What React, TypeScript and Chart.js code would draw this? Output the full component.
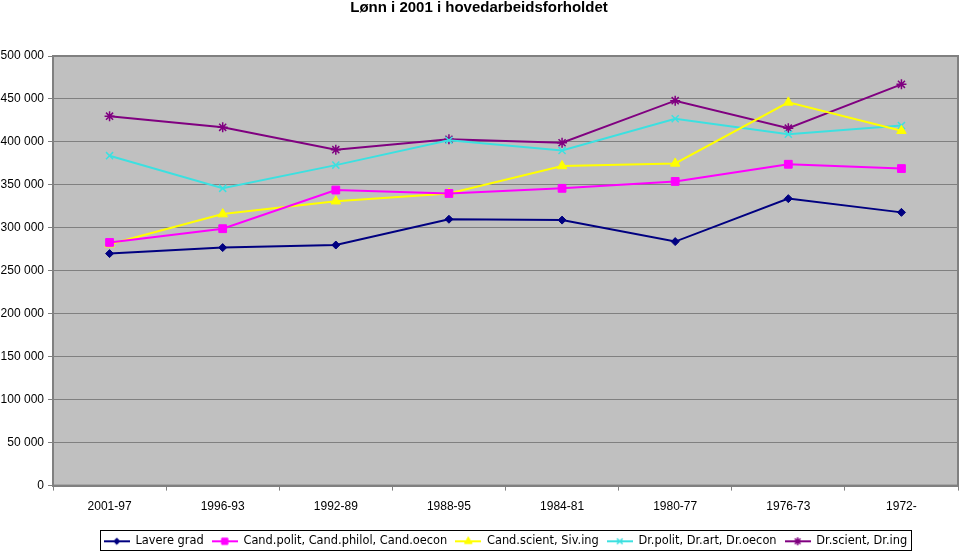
import React, { useEffect, useRef } from "react";
import { Chart, registerables } from "chart.js";
import { drawPoint } from "chart.js/helpers";

Chart.register(...registerables);

const categories = ["2001-97", "1996-93", "1992-89", "1988-95", "1984-81", "1980-77", "1976-73", "1972-"];
const lavereGrad = [270000, 277000, 280000, 310000, 309000, 284000, 334000, 318000];
const candPolit = [283000, 299000, 344000, 340000, 346000, 354000, 374000, 369000];
const candScient = [281000, 316000, 331000, 340000, 372000, 375000, 446000, 413000];
const drPolit = [384000, 346000, 373000, 402000, 390000, 427000, 409000, 419000];
const drScient = [430000, 417000, 391000, 403000, 399000, 448000, 416000, 467000];
const seriesNames = [
  "Lavere grad",
  "Cand.polit, Cand.philol, Cand.oecon",
  "Cand.scient, Siv.ing",
  "Dr.polit, Dr.art, Dr.oecon",
  "Dr.scient, Dr.ing",
];
const titleText = "Lønn i 2001 i hovedarbeidsforholdet";
const yMin = 0;
const yMax = 500000;
const yStep = 50000;

const seriesColors = ["#000080", "#FF00FF", "#FFFF00", "#3CE0E0", "#800080"];
const seriesStyles = ["rectRot", "rect", "triangle", "crossRot", "star"];
const seriesRadii = [4, 5.5, 5.5, 5, 5];

const fmt = (v: number) => String(v).replace(/\B(?=(\d{3})+(?!\d))/g, " ");

function legendIcon(color: string, style: string, radius: number) {
  const c = document.createElement("canvas");
  c.width = 26;
  c.height = 12;
  const ctx = c.getContext("2d")!;
  ctx.strokeStyle = color;
  ctx.fillStyle = color;
  ctx.lineWidth = 2;
  ctx.beginPath();
  ctx.moveTo(0, 6);
  ctx.lineTo(26, 6);
  ctx.stroke();
  ctx.lineWidth = style === "crossRot" || style === "star" ? 1.5 : 1;
  drawPoint(ctx, { pointStyle: style as any, radius, rotation: 0, borderWidth: ctx.lineWidth }, 13, 6);
  return c;
}

const LEGEND_PAD = 8;
const LEGEND_FONT = 11.4;
const PLOT_RIGHT = 958;

const layoutPlugin = {
  id: "layoutTweaks",
  beforeLayout(chart: any) {
    const lg = chart.legend;
    if (lg && !lg.__patched) {
      const orig = lg.fit.bind(lg);
      lg.fit = function () {
        orig();
        this.height = this.height - 10;
      };
      lg.__patched = true;
    }
  },
  afterLayout(chart: any) {
    const a = chart.chartArea;
    a.right = PLOT_RIGHT;
    a.width = PLOT_RIGHT - a.left;
    const xs = chart.scales.x;
    xs.right = PLOT_RIGHT;
    xs.width = PLOT_RIGHT - xs.left;
    xs.configure();
    const lg = chart.legend;
    if (lg) {
      lg.left = a.left;
      lg.right = a.right;
    }
  },
  beforeDraw(chart: any) {
    const { ctx, chartArea: a } = chart;
    ctx.save();
    ctx.fillStyle = "#FFFFFF";
    ctx.fillRect(0, 0, chart.width, chart.height);
    ctx.fillStyle = "#C0C0C0";
    ctx.fillRect(a.left, a.top, a.right - a.left, a.bottom - a.top);
    ctx.strokeStyle = "#808080";
    ctx.lineWidth = 2;
    ctx.strokeRect(a.left, a.top, a.right - a.left, a.bottom - a.top);
    ctx.restore();
  },
  afterDraw(chart: any) {
    const lg = chart.legend;
    if (!lg || !lg.lineWidths) return;
    const lw = lg.lineWidths[0];
    const startX = (lg.left + LEGEND_PAD + lg.right - lw) / 2;
    const endX = startX + lw - LEGEND_PAD;
    const { ctx } = chart;
    ctx.save();
    ctx.strokeStyle = "#000000";
    ctx.lineWidth = 1;
    ctx.strokeRect(Math.round(startX - 4) + 0.5, 530.5, Math.round(endX - startX + 8), 20);
    ctx.restore();
  },
};

export default function App() {
  const ref = useRef<HTMLCanvasElement | null>(null);
  useEffect(() => {
    document.body.style.margin = "0";
    const values = [lavereGrad, candPolit, candScient, drPolit, drScient];
    const datasets = values.map((d, i) => ({
      label: seriesNames[i],
      data: d,
      borderColor: seriesColors[i],
      backgroundColor: seriesColors[i],
      pointBackgroundColor: seriesColors[i],
      pointBorderColor: seriesColors[i],
      pointStyle: seriesStyles[i] as any,
      pointRadius: seriesRadii[i],
      pointBorderWidth: i >= 3 ? 1.5 : 1,
      borderWidth: 2,
      tension: 0,
      fill: false,
    }));
    const icons = values.map((_, i) => legendIcon(seriesColors[i], seriesStyles[i], seriesRadii[i] * 0.8));
    const chart = new Chart(ref.current!, {
      type: "line",
      data: { labels: categories, datasets },
      plugins: [layoutPlugin],
      options: {
        responsive: false,
        animation: false,
        devicePixelRatio: 1,
        layout: { padding: { left: 0, right: 2, top: 0, bottom: 4 } },
        plugins: {
          tooltip: { enabled: false },
          title: {
            display: true,
            text: titleText,
            color: "#000000",
            font: { family: "'Liberation Sans', sans-serif", size: 15, weight: "bold", lineHeight: 1 },
            padding: { top: 0, bottom: 41 },
          },
          legend: {
            display: true,
            position: "bottom",
            labels: {
              color: "#000000",
              font: { family: "'DejaVu Sans', sans-serif", size: LEGEND_FONT },
              usePointStyle: true,
              pointStyleWidth: 26,
              padding: LEGEND_PAD,
              generateLabels: (c: any) =>
                c.data.datasets.map((ds: any, i: number) => ({
                  text: ds.label,
                  pointStyle: icons[i],
                  fillStyle: seriesColors[i],
                  strokeStyle: seriesColors[i],
                  lineWidth: 0,
                  hidden: false,
                  datasetIndex: i,
                  fontColor: "#000000",
                })),
            },
          },
        },
        scales: {
          x: {
            type: "category",
            offset: true,
            grid: { offset: true, drawOnChartArea: false, drawTicks: true, tickLength: 5, color: "#808080" },
            border: { color: "#808080", width: 2 },
            ticks: {
              color: "#000000",
              padding: 9,
              maxRotation: 0,
              autoSkip: false,
              font: { family: "'Liberation Sans', sans-serif", size: 12 },
            },
            afterFit: (s: any) => {
              s.height = 551 - 4 - (Math.ceil(LEGEND_FONT) + LEGEND_PAD) - 485;
              s.paddingLeft = 0;
              s.paddingRight = 0;
            },
          },
          y: {
            min: yMin,
            max: yMax,
            grid: { color: "#808080", lineWidth: 1, tickLength: 5, drawTicks: true },
            border: { color: "#808080", width: 2 },
            ticks: {
              stepSize: yStep,
              color: "#000000",
              padding: 4,
              font: { family: "'Liberation Sans', sans-serif", size: 12 },
              callback: (v: any) => fmt(Number(v)),
            },
            afterFit: (s: any) => {
              s.width = 53;
            },
          },
        },
      },
    });
    return () => chart.destroy();
  }, []);
  return (
    <div style={{ width: 960, height: 551 }}>
      <canvas ref={ref} width={960} height={551} style={{ display: "block" }} />
    </div>
  );
}
